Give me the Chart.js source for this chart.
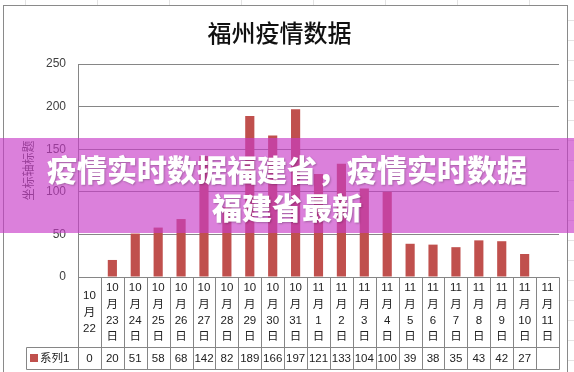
<!DOCTYPE html>
<html>
<head>
<meta charset="utf-8">
<script src="https://cdn.jsdelivr.net/npm/chart.js@4/dist/chart.umd.min.js"></script>
<style>
  body { margin: 0; background: #fff; }
  #caja { position: relative; width: 574px; height: 372px; overflow: hidden; }
  #banner {
    position: absolute; left: 0; top: 138px; width: 574px; height: 95px;
    background: rgba(200, 60, 200, 0.65);
    color: #fff; font-family: "Noto Sans CJK SC", sans-serif; font-weight: 900;
    font-size: 30px; line-height: 37.5px; text-align: center;
    padding-top: 12px; box-sizing: border-box;
    text-shadow: 1px 1px 2px rgba(0, 0, 0, 0.25);
  }
</style>
</head>
<body>
<div id="caja">
  <canvas id="grafico" width="574" height="372"></canvas>
  <div id="banner">疫情实时数据福建省，疫情实时数据<br>福建省最新</div>
</div>
<script>
// datos
var fechas = ["10月22", "10月23日", "10月24日", "10月25日", "10月26日", "10月27日", "10月28日",
  "10月29日", "10月30日", "10月31日", "11月1日", "11月2日", "11月3日", "11月4日", "11月5日",
  "11月6日", "11月7日", "11月8日", "11月9日", "11月10日", "11月11日"];
var casos = [0, 20, 51, 58, 68, 142, 82, 189, 166, 197, 121, 133, 104, 100, 39, 38, 35, 43, 42, 27, null];
var ticksY = [0, 50, 100, 150, 200, 250];
var serie = "系列1";
var titulo = "福州疫情数据";
var tituloEje = "坐标轴标题";

var rojo = "#c0504d";
var gris = "#868686";
var fuenteTabla = "11.5px 'Liberation Sans', 'Noto Sans CJK SC', sans-serif";

function partirFecha(f) {
  var m = f.match(/^(\d+)(月)(\d+)(日?)$/);
  var lineas = [m[1], m[2], m[3]];
  if (m[4]) lineas.push(m[4]);
  return lineas;
}

// marco y hoja de fondo
var marcoPlugin = {
  id: 'marco',
  beforeDraw: function (chart) {
    var ctx = chart.ctx;
    ctx.save();
    ctx.fillStyle = "#fff";
    ctx.fillRect(0, 0, 574, 372);
    ctx.strokeStyle = "#e3e3e3";
    ctx.lineWidth = 1;
    for (var x = 25; x < 574; x += 72) {
      ctx.beginPath();
      ctx.moveTo(x + 0.5, 0);
      ctx.lineTo(x + 0.5, 5);
      ctx.stroke();
    }
    for (var y = 20; y < 372; y += 20) {
      ctx.beginPath();
      ctx.moveTo(568, y + 0.5);
      ctx.lineTo(574, y + 0.5);
      ctx.stroke();
    }
    ctx.strokeStyle = "#8a8a8a";
    ctx.strokeRect(3.5, 5.5, 564, 380);
    ctx.restore();
  }
};

// tabla de datos bajo el eje
var tablaPlugin = {
  id: 'tabla',
  afterDraw: function (chart) {
    var ctx = chart.ctx;
    var xs = chart.scales.x;
    var area = chart.chartArea;
    var arriba = Math.round(area.bottom) + 0.5;
    var medio = arriba + 70;
    var abajo = medio + 22;
    var ancho = (area.right - area.left) / fechas.length;
    var izq = Math.round(area.left) + 0.5;
    var der = Math.round(area.right) + 0.5;

    ctx.save();
    ctx.strokeStyle = gris;
    ctx.lineWidth = 1;
    ctx.beginPath();
    ctx.moveTo(izq, arriba); ctx.lineTo(der, arriba);
    ctx.moveTo(26.5, medio); ctx.lineTo(der, medio);
    ctx.moveTo(26.5, abajo); ctx.lineTo(der, abajo);
    ctx.moveTo(26.5, medio); ctx.lineTo(26.5, abajo);
    for (var i = 0; i <= fechas.length; i++) {
      var bx = Math.round(area.left + i * ancho) + 0.5;
      ctx.moveTo(bx, arriba); ctx.lineTo(bx, abajo);
    }
    ctx.stroke();

    ctx.fillStyle = "#222";
    ctx.font = fuenteTabla;
    ctx.textAlign = "center";
    ctx.textBaseline = "middle";
    var centroFila = (arriba + medio) / 2;
    for (var j = 0; j < fechas.length; j++) {
      var cx = xs.getPixelForValue(j);
      var lineas = partirFecha(fechas[j]);
      var y0 = centroFila - (lineas.length - 1) * 16.3 / 2;
      for (var k = 0; k < lineas.length; k++) {
        ctx.fillText(lineas[k], cx, y0 + k * 16.3);
      }
      if (casos[j] !== null) {
        ctx.fillText(String(casos[j]), cx, (medio + abajo) / 2 + 0.5);
      }
    }

    // leyenda en la tabla
    ctx.fillStyle = rojo;
    ctx.fillRect(30, 354, 8, 8);
    ctx.fillStyle = "#222";
    ctx.textAlign = "left";
    ctx.fillText(serie, 40, (medio + abajo) / 2 + 0.5);
    ctx.restore();
  }
};

new Chart(document.getElementById("grafico"), {
  type: 'bar',
  data: {
    labels: fechas,
    datasets: [
      {
        label: serie,
        backgroundColor: rojo,
        data: casos,
        barPercentage: 0.4,
        categoryPercentage: 1
      }
    ]
  },
  options: {
    responsive: false,
    animation: false,
    layout: { padding: { top: 0, left: 0, right: 15, bottom: 95 } },
    scales: {
      x: { display: false },
      y: {
        min: ticksY[0],
        max: ticksY[ticksY.length - 1],
        afterFit: function (s) { s.width = 78; },
        ticks: {
          stepSize: ticksY[1] - ticksY[0],
          padding: 12,
          color: "#404040",
          font: { size: 12, family: "'Liberation Sans', sans-serif" }
        },
        grid: { color: gris, drawTicks: false },
        border: { display: true, color: gris },
        title: {
          display: true,
          text: tituloEje,
          color: "#404040",
          padding: { top: 21, bottom: 0 },
          font: { size: 12, family: "'Noto Sans CJK SC', sans-serif" }
        }
      }
    },
    plugins: {
      legend: { display: false },
      tooltip: { enabled: false },
      title: {
        display: true,
        text: titulo,
        color: "#111",
        padding: { top: 18, bottom: 17.2 },
        font: { size: 24, weight: 500, family: "'Noto Sans CJK SC', serif" }
      }
    }
  },
  plugins: [marcoPlugin, tablaPlugin]
});
</script>
</body>
</html>
